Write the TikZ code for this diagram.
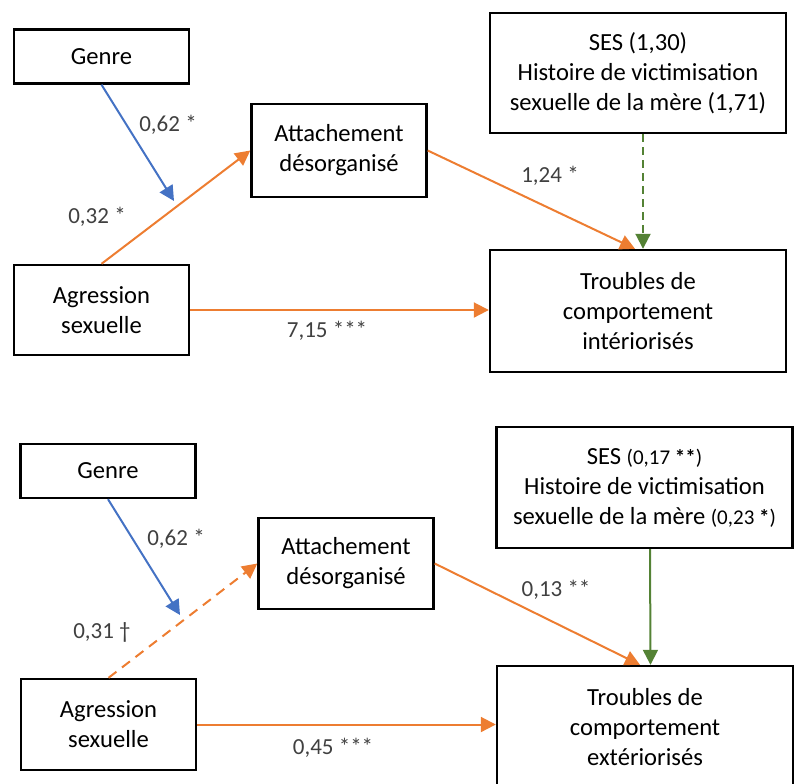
\documentclass[tikz,border=0pt]{standalone}
\usepackage{fontspec}
\setmainfont{Carlito}
\usepackage{tikz}
\usetikzlibrary{arrows.meta}

\definecolor{ocre}{HTML}{ED7D31}
\definecolor{bleu}{HTML}{4472C4}
\definecolor{vert}{HTML}{548235}
\definecolor{gris}{HTML}{404040}

\begin{document}
\begin{tikzpicture}[
  x=0.5pt, y=-0.5pt,
  font=\fontsize{12.3}{15}\selectfont,
  >={Triangle[length=7.5pt,width=7.5pt]},
  every node/.style={align=center},
  box/.style={draw, line width=1.2pt, inner sep=0pt, minimum width=87.5pt, minimum height=#1},
  box/.default=27pt,
  big/.style={box=#1, minimum width=148pt},
  lbl/.style={text=gris, font=\fontsize{11.5}{14}\selectfont, inner sep=0pt},
  path/.style={->, line width=1pt, ocre},
  sexe/.style={->, line width=1pt, bleu},
  ctrl/.style={->, line width=1pt, vert},
]
  \useasboundingbox (0,0) rectangle (801,783);

  % internalisés
  \node[box]       (gen1) at (101.5,56.5) {Genre};
  \node[box=46.5pt](att1) at (339,150.5)  {Attachement\\désorganisé};
  \node[box=45pt]  (agr1) at (101.5,310)  {Agression\\sexuelle};
  \node[big=60pt]  (ses1) at (638,73)     {SES (1,30)\\Histoire de victimisation\\sexuelle de la mère (1,71)};
  \node[big=61pt]  (int1) at (638,311)    {Troubles de\\comportement\\intériorisés};
  \coordinate (tip1) at (174,201);

  \draw[sexe] (gen1.south) -- (tip1);
  \draw[path] (agr1.north) -- (att1.west);
  \draw[path] (att1.east) -- ([xshift=-1.5pt]int1.north);
  \draw[ctrl, dash pattern=on 4pt off 2.5pt] ([xshift=2.5pt]ses1.south) -- ([xshift=2.5pt]int1.north);
  \draw[path] (agr1.east) -- (agr1.east -| int1.west);

  \node[lbl] (l11) at (168,125) {0,62 *};
  \node[lbl] (l12) at (97,217)  {0,32 *};
  \node[lbl] (l13) at (550,176) {1,24 *};
  \node[lbl] (l14) at (327,331) {7,15 ***};

  % extériorisés
  \node[box]       (gen2) at (108,471)    {Genre};
  \node[box=45.5pt](att2) at (346,563.5)  {Attachement\\désorganisé};
  \node[box=45.5pt](agr2) at (108.5,724.5){Agression\\sexuelle};
  \node[big=60.5pt](ses2) at (644.5,487.5)
       {SES {\fontsize{10.5}{15}\selectfont(0,17 \textbf{**})}\\Histoire de victimisation\\
        sexuelle de la mère {\fontsize{10.5}{15}\selectfont(0,23 \textbf{*})}};
  \node[big=61pt]  (ext2) at (645,727)    {Troubles de\\comportement\\extériorisés};
  \coordinate (tip2) at (180,615);

  \draw[sexe] (gen2.south) -- (tip2);
  \draw[path, dash pattern=on 5pt off 3.5pt] (agr2.north) -- (att2.west);
  \draw[path] (att2.east) -- ([xshift=-2.5pt]ext2.north);
  \draw[ctrl] ([xshift=2.75pt]ses2.south) -- ([xshift=2.75pt]ext2.north);
  \draw[path] (agr2.east) -- (agr2.east -| ext2.west);

  \node[lbl] (l21) at (176,539) {0,62 *};
  \node[lbl] (l22) at (102,632) {0,31 \dag};
  \node[lbl] (l23) at (556,590) {0,13 **};
  \node[lbl] (l24) at (333,748) {0,45 ***};
\end{tikzpicture}
\end{document}
